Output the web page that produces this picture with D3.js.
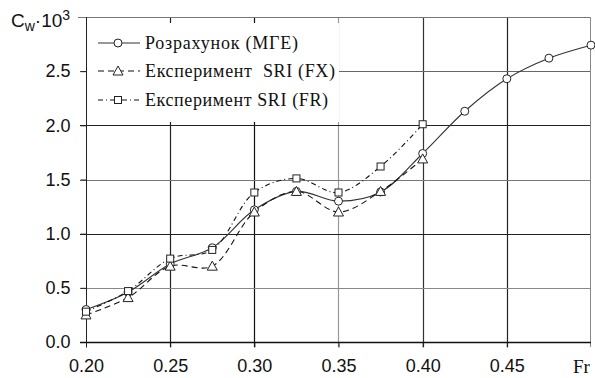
<!DOCTYPE html>
<html>
<head>
<meta charset="utf-8">
<script src="https://cdn.jsdelivr.net/npm/d3@7"></script>
<style>
  body { margin: 0; background: #fff; }
  .tick text { font-family: "Liberation Sans", Arial, sans-serif; font-size: 18px; fill: #111; }
  .leg { font-family: "Liberation Serif", "Times New Roman", serif; font-size: 18px; fill: #111; }
</style>
</head>
<body>
<svg id="chart" width="595" height="378"></svg>
<script>
// Froude numbers
const frCalc = [0.20, 0.225, 0.25, 0.275, 0.30, 0.325, 0.35, 0.375, 0.40, 0.425, 0.45, 0.475, 0.50];
const frExp = [0.20, 0.225, 0.25, 0.275, 0.30, 0.325, 0.35, 0.375, 0.40];

// Cw*10^3
const cwCalc = [0.30, 0.46, 0.72, 0.87, 1.22, 1.39, 1.30, 1.385, 1.74, 2.13, 2.43, 2.62, 2.74];
const cwFX = [0.25, 0.41, 0.70, 0.70, 1.20, 1.39, 1.20, 1.39, 1.69];
const cwFR = [0.28, 0.47, 0.77, 0.85, 1.38, 1.51, 1.38, 1.62, 2.01];

const xTicks = [0.20, 0.25, 0.30, 0.35, 0.40, 0.45];
const yTicks = [0.0, 0.5, 1.0, 1.5, 2.0, 2.5];
const legendNames = ["Розрахунок (МГЕ)", "Експеримент  SRI (FX)", "Експеримент SRI (FR)"];

const svg = d3.select("#chart");

const x = d3.scaleLinear().domain([0.20, 0.50]).range([86, 591]);
const y = d3.scaleLinear().domain([0, 3]).range([342, 17]);

// grid colours - the scan has some lines darker than others
const vGridCol = { "0.25": "#222", "0.3": "#111", "0.35": "#999", "0.4": "#333", "0.45": "#222" };
const hGridCol = { "0.5": "#888", "1": "#222", "1.5": "#777", "2": "#222", "2.5": "#666" };

// vertical grid
svg.append("g")
  .selectAll("line")
  .data([0.25, 0.30, 0.35, 0.40, 0.45])
  .enter().append("line")
  .attr("x1", d => Math.round(x(d)) + 0.5)
  .attr("x2", d => Math.round(x(d)) + 0.5)
  .attr("y1", y(3))
  .attr("y2", y(0) + 5)
  .attr("stroke", d => vGridCol[String(+d.toFixed(2))])
  .attr("stroke-width", 1.2);

// horizontal grid
svg.append("g")
  .selectAll("line")
  .data([0.5, 1.0, 1.5, 2.0, 2.5])
  .enter().append("line")
  .attr("x1", x(0.2) - 6)
  .attr("x2", x(0.5))
  .attr("y1", d => Math.round(y(d)) + 0.5)
  .attr("y2", d => Math.round(y(d)) + 0.5)
  .attr("stroke", d => hGridCol[String(d)])
  .attr("stroke-width", 1.2);

// frame: top and right lighter
svg.append("line")
  .attr("x1", x(0.2) - 8).attr("x2", x(0.5))
  .attr("y1", y(3) + 0.5).attr("y2", y(3) + 0.5)
  .attr("stroke", "#777");
svg.append("line")
  .attr("x1", x(0.5) - 0.5).attr("x2", x(0.5) - 0.5)
  .attr("y1", y(3)).attr("y2", y(0) + 5)
  .attr("stroke", "#888");

// legend box covers the grid
svg.append("rect")
  .attr("x", 87).attr("y", 23)
  .attr("width", 252).attr("height", 99)
  .attr("fill", "#fff");

// axes
const yAxis = svg.append("g")
  .attr("transform", "translate(" + (Math.round(x(0.2)) + 0.5) + ",0)")
  .call(d3.axisLeft(y).tickValues(yTicks).tickSize(6).tickPadding(10).tickFormat(d3.format(".1f")));
yAxis.select(".domain").attr("d", "M0," + (y(3)) + "V" + (y(0) + 5)).attr("stroke", "#222");
yAxis.selectAll(".tick line").attr("stroke", "#222");

const xAxis = svg.append("g")
  .attr("transform", "translate(0," + (Math.round(y(0)) + 0.5) + ")")
  .call(d3.axisBottom(x).tickValues(xTicks).tickSize(5).tickPadding(12).tickFormat(d3.format(".2f")));
xAxis.select(".domain").attr("d", "M" + (x(0.2) - 6) + ",0H" + x(0.5)).attr("stroke", "#111").attr("stroke-width", 1.3);
xAxis.selectAll(".tick line").attr("stroke", "#222");

// axis titles
svg.append("text")
  .attr("x", 573).attr("y", 373)
  .attr("font-family", "Liberation Serif, serif")
  .attr("font-size", 19)
  .attr("fill", "#111")
  .text("Fr");

const ytitle = svg.append("text")
  .attr("x", 11).attr("y", 27)
  .attr("font-family", "Liberation Sans, Arial, sans-serif")
  .attr("font-size", 19)
  .attr("fill", "#111");
ytitle.append("tspan").text("C");
ytitle.append("tspan").attr("font-size", 14).attr("dy", 4).text("w");
ytitle.append("tspan").attr("dy", -4).text("·10");
ytitle.append("tspan").attr("font-size", 14).attr("dy", -7).text("3");

// series
const series = [
  { fr: frCalc, cw: cwCalc, dash: null, marker: "circle", color: "#333" },
  { fr: frExp, cw: cwFX, dash: "6,4", marker: "triangle", color: "#111" },
  { fr: frExp, cw: cwFR, dash: "5,3,1,3", marker: "square", color: "#111" }
];

const line = d3.line()
  .x(d => x(d[0]))
  .y(d => y(d[1]))
  .curve(d3.curveCatmullRom.alpha(0.5));

function drawMarker(g, type, cx, cy) {
  if (type === "circle") {
    g.append("circle").attr("cx", cx).attr("cy", cy).attr("r", 4)
      .attr("fill", "#fff").attr("stroke", "#222").attr("stroke-width", 1);
  } else if (type === "triangle") {
    g.append("path")
      .attr("d", "M" + cx + "," + (cy - 5) + "L" + (cx + 5) + "," + (cy + 4) + "L" + (cx - 5) + "," + (cy + 4) + "Z")
      .attr("fill", "#fff").attr("stroke", "#222").attr("stroke-width", 1);
  } else {
    g.append("rect").attr("x", cx - 3.5).attr("y", cy - 3.5).attr("width", 7).attr("height", 7)
      .attr("fill", "#fff").attr("stroke", "#222").attr("stroke-width", 1);
  }
}

series.forEach(function (s) {
  const pts = s.fr.map((f, i) => [f, s.cw[i]]);
  svg.append("path")
    .datum(pts)
    .attr("d", line)
    .attr("fill", "none")
    .attr("stroke", s.color)
    .attr("stroke-width", 1.1)
    .attr("stroke-dasharray", s.dash);
});

series.forEach(function (s) {
  const g = svg.append("g");
  s.fr.forEach((f, i) => drawMarker(g, s.marker, x(f), y(s.cw[i])));
});

// legend
const legY = [43, 71, 100];
const legLen = [153, 190, 183];
series.forEach(function (s, i) {
  svg.append("line")
    .attr("x1", 98).attr("x2", 140)
    .attr("y1", legY[i]).attr("y2", legY[i])
    .attr("stroke", s.color).attr("stroke-width", 1.1)
    .attr("stroke-dasharray", s.dash);
  drawMarker(svg, s.marker, 118, legY[i]);
  svg.append("text")
    .attr("class", "leg")
    .attr("x", 145).attr("y", legY[i] + 6)
    .attr("textLength", legLen[i])
    .attr("lengthAdjust", "spacing")
    .style("white-space", "pre")
    .text(legendNames[i]);
});
</script>
</body>
</html>
